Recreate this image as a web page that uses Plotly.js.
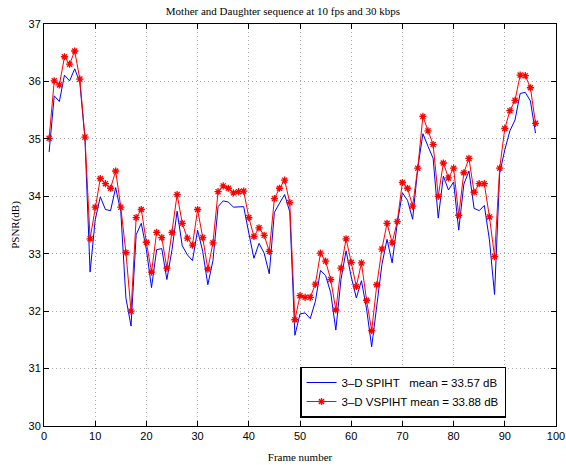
<!DOCTYPE html>
<html>
<head>
<meta charset="utf-8">
<script src="https://cdn.plot.ly/plotly-3.0.1.min.js"></script>
<style>html,body{margin:0;padding:0;background:#fff;}#chart{width:566px;height:465px;}</style>
</head>
<body>
<div id="chart"></div>
<script>
const frames = [];
for (let i = 1; i <= 96; i++) frames.push(i);

const spiht = [34.77,35.75,35.65,36.11,36.01,36.22,35.98,35.00,32.68,33.59,
  33.99,33.77,33.75,34.15,33.73,32.23,31.74,33.33,33.53,33.07,
  32.41,33.07,33.09,32.55,33.07,33.74,33.14,32.98,32.88,33.41,
  33.04,32.46,32.88,33.82,33.92,33.90,33.81,33.81,33.82,33.36,
  32.92,33.18,33.01,32.65,33.72,33.88,34.03,33.73,31.58,31.95,
  31.97,31.87,32.17,32.71,32.62,32.32,31.67,32.55,33.05,32.60,
  32.23,32.53,32.04,31.38,32.14,32.81,33.25,32.84,33.53,34.06,
  33.93,33.60,34.49,35.09,34.87,34.66,33.62,34.35,34.11,34.25,
  33.41,34.21,34.44,33.79,33.75,33.84,33.24,32.29,34.40,34.81,
  35.14,35.33,35.79,35.81,35.66,35.10];

const vspiht = [35.01,36.01,35.94,36.43,36.30,36.53,36.04,35.03,33.26,33.81,
  34.31,34.22,34.14,34.44,33.81,33.02,32.00,33.63,33.77,33.20,
  32.68,33.37,33.28,32.75,33.37,34.03,33.53,33.27,33.15,33.77,
  33.28,32.73,33.19,34.08,34.18,34.14,34.06,34.08,34.09,33.63,
  33.30,33.45,33.32,33.04,33.96,34.14,34.28,33.89,31.85,32.27,
  32.24,32.24,32.47,33.01,32.87,32.55,32.02,32.75,33.26,32.85,
  32.43,32.84,32.19,31.66,32.46,33.08,33.53,33.19,33.56,34.24,
  34.14,33.83,34.49,35.39,35.14,34.90,34.00,34.58,34.32,34.49,
  33.67,34.41,34.66,34.07,34.22,34.22,33.64,32.95,34.49,35.18,
  35.49,35.67,36.11,36.10,35.89,35.27];

const legendNames = ['3\u2013D SPIHT\u00a0\u00a0\u00a0mean = 33.57 dB', '3\u2013D VSPIHT mean = 33.88 dB'];
const xTicks = [0,10,20,30,40,50,60,70,80,90,100];
const yTicks = [30,31,32,33,34,35,36,37];

const traces = [
  {x: frames, y: spiht, type: 'scatter', mode: 'lines', name: legendNames[0],
   line: {color: '#0000ff', width: 1}},
  {x: frames, y: vspiht, type: 'scatter', mode: 'lines+markers', name: legendNames[1],
   line: {color: '#ff0000', width: 1},
   marker: {symbol: 'asterisk-open', size: 6, color: '#ff0000', line: {color: '#ff0000', width: 1.3}}}
];

const axisCommon = {
  showline: true, linecolor: '#000', linewidth: 1, mirror: 'ticks',
  ticks: 'inside', ticklen: 5, tickcolor: '#000',
  showgrid: true, gridcolor: '#a8a8a8', griddash: '1px,3px', gridwidth: 1,
  zeroline: false, ticklabeloverflow: 'allow',
  tickfont: {family: 'Liberation Sans, Arial, sans-serif', size: 11, color: '#000'}
};

const layout = {
  width: 566, height: 465,
  margin: {l: 44, r: 10, t: 24, b: 39},
  paper_bgcolor: '#fff', plot_bgcolor: '#fff',
  title: {text: 'Mother and Daughter sequence at 10 fps and 30 kbps',
          font: {family: 'Liberation Serif, Times New Roman, serif', size: 11, color: '#000'},
          x: 0.5, xanchor: 'center', y: 0.985, yanchor: 'top'},
  xaxis: Object.assign({}, axisCommon, {range: [0, 100], tickvals: xTicks,
    title: {text: 'Frame number', standoff: 12,
            font: {family: 'Liberation Serif, Times New Roman, serif', size: 11, color: '#000'}}}),
  yaxis: Object.assign({}, axisCommon, {range: [30, 37], tickvals: yTicks,
    title: {text: 'PSNR(dB)', standoff: 6,
            font: {family: 'Liberation Serif, Times New Roman, serif', size: 11, color: '#000'}}}),
  showlegend: true,
  legend: {x: 0.5, y: 0.148, xanchor: 'left', yanchor: 'top',
           bgcolor: '#fff', bordercolor: '#000', borderwidth: 1.5,
           entrywidth: 200, entrywidthmode: 'pixels',
           font: {family: 'Liberation Sans, Arial, sans-serif', size: 11.5, color: '#000'},
           tracegroupgap: 0}
};

Plotly.newPlot('chart', traces, layout, {displayModeBar: false, staticPlot: true});
</script>
</body>
</html>
